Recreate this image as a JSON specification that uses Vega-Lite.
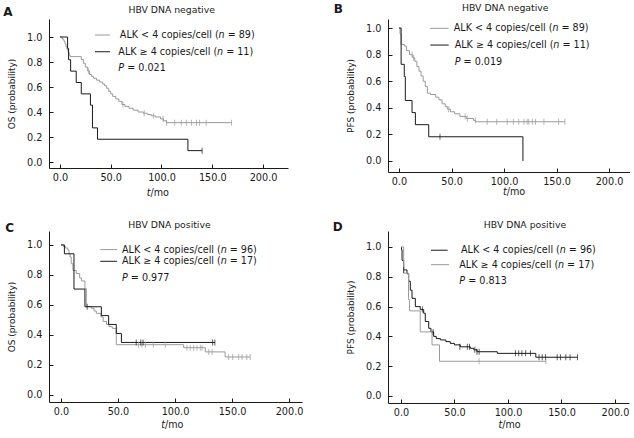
{
"$schema":"https://vega.github.io/schema/vega-lite/v6.json",
"padding":{"left":3,"top":3,"right":0,"bottom":0},
"autosize":{"type":"pad"},
"bounds":"flush",
"columns":2,
"spacing":{"row":59,"column":86},
"resolve":{"scale":{"color":"independent"}},
"config":{
 "view":{"stroke":null},
 "axis":{"labelFont":"DejaVu Sans","labelFontSize":9.7,"titleFont":"DejaVu Sans","titleFontSize":9,"titleFontWeight":"normal","labelColor":"#1a1a1a","titleColor":"#1a1a1a","domainColor":"#1a1a1a","tickColor":"#1a1a1a","tickSize":-4,"grid":false,"labelFlush":false,"labelOverlap":false,"labelBound":false,"tickCount":20},
 "axisX":{"labelPadding":8},
 "axisY":{"labelPadding":11,"titlePadding":10},
 "text":{"font":"DejaVu Sans","fontSize":9.6,"color":"#1a1a1a","baseline":"middle","align":"left"}
},
"datasets":{
"curves":[
{"p":"A","g":"lt4","t":0,"s":1},{"p":"A","g":"lt4","t":2,"s":0.989},{"p":"A","g":"lt4","t":3,"s":0.978},{"p":"A","g":"lt4","t":4,"s":0.966},{"p":"A","g":"lt4","t":5,"s":0.944},{"p":"A","g":"lt4","t":6,"s":0.921},{"p":"A","g":"lt4","t":7,"s":0.899},{"p":"A","g":"lt4","t":8,"s":0.876},{"p":"A","g":"lt4","t":9,"s":0.854},{"p":"A","g":"lt4","t":10,"s":0.843},{"p":"A","g":"lt4","t":21,"s":0.82},{"p":"A","g":"lt4","t":23,"s":0.79},{"p":"A","g":"lt4","t":25,"s":0.76},{"p":"A","g":"lt4","t":27,"s":0.73},{"p":"A","g":"lt4","t":29,"s":0.70},{"p":"A","g":"lt4","t":31,"s":0.685},{"p":"A","g":"lt4","t":33,"s":0.67},{"p":"A","g":"lt4","t":36,"s":0.655},{"p":"A","g":"lt4","t":39,"s":0.64},{"p":"A","g":"lt4","t":42,"s":0.625},{"p":"A","g":"lt4","t":44,"s":0.61},{"p":"A","g":"lt4","t":46,"s":0.59},{"p":"A","g":"lt4","t":48,"s":0.565},{"p":"A","g":"lt4","t":50,"s":0.545},{"p":"A","g":"lt4","t":52,"s":0.525},{"p":"A","g":"lt4","t":55,"s":0.505},{"p":"A","g":"lt4","t":58,"s":0.485},{"p":"A","g":"lt4","t":61,"s":0.46},{"p":"A","g":"lt4","t":64,"s":0.445},{"p":"A","g":"lt4","t":68,"s":0.43},{"p":"A","g":"lt4","t":72,"s":0.415},{"p":"A","g":"lt4","t":77,"s":0.40},{"p":"A","g":"lt4","t":82,"s":0.39},{"p":"A","g":"lt4","t":86,"s":0.38},{"p":"A","g":"lt4","t":90,"s":0.37},{"p":"A","g":"lt4","t":94,"s":0.36},{"p":"A","g":"lt4","t":99,"s":0.345},{"p":"A","g":"lt4","t":102,"s":0.33},{"p":"A","g":"lt4","t":105,"s":0.315},{"p":"A","g":"lt4","t":169,"s":0.315},
{"p":"A","g":"ge4","t":0,"s":1},{"p":"A","g":"ge4","t":7.5,"s":0.909},{"p":"A","g":"ge4","t":8.5,"s":0.818},{"p":"A","g":"ge4","t":10.5,"s":0.727},{"p":"A","g":"ge4","t":16,"s":0.636},{"p":"A","g":"ge4","t":21,"s":0.545},{"p":"A","g":"ge4","t":30,"s":0.455},{"p":"A","g":"ge4","t":32,"s":0.273},{"p":"A","g":"ge4","t":37,"s":0.182},{"p":"A","g":"ge4","t":126,"s":0.091},{"p":"A","g":"ge4","t":140,"s":0.091},
{"p":"B","g":"lt4","t":0,"s":1},{"p":"B","g":"lt4","t":1,"s":0.955},{"p":"B","g":"lt4","t":2,"s":0.876},{"p":"B","g":"lt4","t":5,"s":0.865},{"p":"B","g":"lt4","t":7,"s":0.83},{"p":"B","g":"lt4","t":10,"s":0.80},{"p":"B","g":"lt4","t":13,"s":0.775},{"p":"B","g":"lt4","t":15,"s":0.75},{"p":"B","g":"lt4","t":17,"s":0.71},{"p":"B","g":"lt4","t":19,"s":0.675},{"p":"B","g":"lt4","t":21,"s":0.64},{"p":"B","g":"lt4","t":23,"s":0.60},{"p":"B","g":"lt4","t":25,"s":0.56},{"p":"B","g":"lt4","t":27,"s":0.51},{"p":"B","g":"lt4","t":30,"s":0.50},{"p":"B","g":"lt4","t":35,"s":0.48},{"p":"B","g":"lt4","t":38,"s":0.46},{"p":"B","g":"lt4","t":41,"s":0.43},{"p":"B","g":"lt4","t":44,"s":0.41},{"p":"B","g":"lt4","t":46,"s":0.39},{"p":"B","g":"lt4","t":49,"s":0.37},{"p":"B","g":"lt4","t":53,"s":0.355},{"p":"B","g":"lt4","t":58,"s":0.335},{"p":"B","g":"lt4","t":64,"s":0.32},{"p":"B","g":"lt4","t":71,"s":0.305},{"p":"B","g":"lt4","t":73,"s":0.295},{"p":"B","g":"lt4","t":158,"s":0.295},
{"p":"B","g":"ge4","t":0,"s":1},{"p":"B","g":"ge4","t":2,"s":0.727},{"p":"B","g":"ge4","t":5,"s":0.636},{"p":"B","g":"ge4","t":6,"s":0.455},{"p":"B","g":"ge4","t":12.4,"s":0.364},{"p":"B","g":"ge4","t":15.6,"s":0.273},{"p":"B","g":"ge4","t":28.3,"s":0.182},{"p":"B","g":"ge4","t":118,"s":0},
{"p":"C","g":"lt4","t":0,"s":1},{"p":"C","g":"lt4","t":2,"s":0.99},{"p":"C","g":"lt4","t":4,"s":0.979},{"p":"C","g":"lt4","t":6,"s":0.967},{"p":"C","g":"lt4","t":7,"s":0.94},{"p":"C","g":"lt4","t":8,"s":0.92},{"p":"C","g":"lt4","t":9,"s":0.875},{"p":"C","g":"lt4","t":10.5,"s":0.83},{"p":"C","g":"lt4","t":13.4,"s":0.81},{"p":"C","g":"lt4","t":16.4,"s":0.78},{"p":"C","g":"lt4","t":18,"s":0.76},{"p":"C","g":"lt4","t":21,"s":0.71},{"p":"C","g":"lt4","t":22.2,"s":0.59},{"p":"C","g":"lt4","t":26.6,"s":0.578},{"p":"C","g":"lt4","t":29,"s":0.56},{"p":"C","g":"lt4","t":31,"s":0.544},{"p":"C","g":"lt4","t":35,"s":0.52},{"p":"C","g":"lt4","t":37,"s":0.49},{"p":"C","g":"lt4","t":40,"s":0.47},{"p":"C","g":"lt4","t":42,"s":0.456},{"p":"C","g":"lt4","t":45,"s":0.444},{"p":"C","g":"lt4","t":48.5,"s":0.335},{"p":"C","g":"lt4","t":107.6,"s":0.315},{"p":"C","g":"lt4","t":126.6,"s":0.287},{"p":"C","g":"lt4","t":144,"s":0.253},{"p":"C","g":"lt4","t":166,"s":0.253},
{"p":"C","g":"ge4","t":0,"s":1},{"p":"C","g":"ge4","t":3,"s":0.941},{"p":"C","g":"ge4","t":11.4,"s":0.706},{"p":"C","g":"ge4","t":21,"s":0.588},{"p":"C","g":"ge4","t":35.4,"s":0.529},{"p":"C","g":"ge4","t":41.8,"s":0.47},{"p":"C","g":"ge4","t":48.5,"s":0.41},{"p":"C","g":"ge4","t":53,"s":0.35},{"p":"C","g":"ge4","t":135,"s":0.35},
{"p":"D","g":"lt4","t":0,"s":1},{"p":"D","g":"lt4","t":0.5,"s":0.98},{"p":"D","g":"lt4","t":1,"s":0.91},{"p":"D","g":"lt4","t":2.5,"s":0.846},{"p":"D","g":"lt4","t":5.6,"s":0.82},{"p":"D","g":"lt4","t":7.2,"s":0.77},{"p":"D","g":"lt4","t":8.7,"s":0.71},{"p":"D","g":"lt4","t":10.3,"s":0.655},{"p":"D","g":"lt4","t":13.4,"s":0.60},{"p":"D","g":"lt4","t":18,"s":0.58},{"p":"D","g":"lt4","t":21.2,"s":0.555},{"p":"D","g":"lt4","t":22.7,"s":0.50},{"p":"D","g":"lt4","t":25.9,"s":0.454},{"p":"D","g":"lt4","t":28,"s":0.43},{"p":"D","g":"lt4","t":30.5,"s":0.40},{"p":"D","g":"lt4","t":33,"s":0.385},{"p":"D","g":"lt4","t":36.8,"s":0.376},{"p":"D","g":"lt4","t":42,"s":0.365},{"p":"D","g":"lt4","t":46,"s":0.353},{"p":"D","g":"lt4","t":50,"s":0.343},{"p":"D","g":"lt4","t":55.4,"s":0.33},{"p":"D","g":"lt4","t":64.8,"s":0.32},{"p":"D","g":"lt4","t":68,"s":0.31},{"p":"D","g":"lt4","t":71,"s":0.297},{"p":"D","g":"lt4","t":90,"s":0.286},{"p":"D","g":"lt4","t":126,"s":0.26},{"p":"D","g":"lt4","t":165,"s":0.26},
{"p":"D","g":"ge4","t":0,"s":1},{"p":"D","g":"ge4","t":2.5,"s":0.824},{"p":"D","g":"ge4","t":7,"s":0.647},{"p":"D","g":"ge4","t":8,"s":0.571},{"p":"D","g":"ge4","t":18,"s":0.43},{"p":"D","g":"ge4","t":29,"s":0.343},{"p":"D","g":"ge4","t":36,"s":0.233},{"p":"D","g":"ge4","t":135.5,"s":0.233}
],
"cens":[
{"p":"A","g":"lt4","t":28,"s":0.73},{"p":"A","g":"lt4","t":62,"s":0.46},{"p":"A","g":"lt4","t":83,"s":0.39},{"p":"A","g":"lt4","t":92,"s":0.37},{"p":"A","g":"lt4","t":101.5,"s":0.345},{"p":"A","g":"lt4","t":105,"s":0.315},{"p":"A","g":"lt4","t":113,"s":0.315},{"p":"A","g":"lt4","t":119.5,"s":0.315},{"p":"A","g":"lt4","t":124.5,"s":0.315},{"p":"A","g":"lt4","t":129.5,"s":0.315},{"p":"A","g":"lt4","t":134.5,"s":0.315},{"p":"A","g":"lt4","t":137.5,"s":0.315},{"p":"A","g":"lt4","t":144,"s":0.315},{"p":"A","g":"lt4","t":169,"s":0.315},
{"p":"A","g":"ge4","t":140,"s":0.091},
{"p":"B","g":"lt4","t":12.4,"s":0.80},{"p":"B","g":"lt4","t":14,"s":0.775},{"p":"B","g":"lt4","t":47.3,"s":0.39},{"p":"B","g":"lt4","t":63,"s":0.335},{"p":"B","g":"lt4","t":65,"s":0.32},{"p":"B","g":"lt4","t":72.7,"s":0.305},{"p":"B","g":"lt4","t":84,"s":0.295},{"p":"B","g":"lt4","t":93,"s":0.295},{"p":"B","g":"lt4","t":103,"s":0.295},{"p":"B","g":"lt4","t":109,"s":0.295},{"p":"B","g":"lt4","t":114,"s":0.295},{"p":"B","g":"lt4","t":119,"s":0.295},{"p":"B","g":"lt4","t":122,"s":0.295},{"p":"B","g":"lt4","t":123.5,"s":0.295},{"p":"B","g":"lt4","t":127,"s":0.295},{"p":"B","g":"lt4","t":130,"s":0.295},{"p":"B","g":"lt4","t":138,"s":0.295},{"p":"B","g":"lt4","t":152,"s":0.295},{"p":"B","g":"lt4","t":158,"s":0.295},
{"p":"B","g":"ge4","t":39,"s":0.182},
{"p":"C","g":"lt4","t":68,"s":0.335},{"p":"C","g":"lt4","t":71,"s":0.335},{"p":"C","g":"lt4","t":74,"s":0.335},{"p":"C","g":"lt4","t":81,"s":0.335},{"p":"C","g":"lt4","t":91.5,"s":0.335},{"p":"C","g":"lt4","t":110.5,"s":0.315},{"p":"C","g":"lt4","t":113.4,"s":0.315},{"p":"C","g":"lt4","t":116.4,"s":0.315},{"p":"C","g":"lt4","t":119.3,"s":0.315},{"p":"C","g":"lt4","t":122.2,"s":0.315},{"p":"C","g":"lt4","t":123.7,"s":0.315},{"p":"C","g":"lt4","t":129.6,"s":0.287},{"p":"C","g":"lt4","t":132.5,"s":0.287},{"p":"C","g":"lt4","t":147,"s":0.253},{"p":"C","g":"lt4","t":150.6,"s":0.253},{"p":"C","g":"lt4","t":155.9,"s":0.253},{"p":"C","g":"lt4","t":158.8,"s":0.253},{"p":"C","g":"lt4","t":163,"s":0.253},{"p":"C","g":"lt4","t":166,"s":0.253},
{"p":"C","g":"ge4","t":23,"s":0.588},{"p":"C","g":"ge4","t":66,"s":0.35},{"p":"C","g":"ge4","t":70,"s":0.35},{"p":"C","g":"ge4","t":72,"s":0.35},{"p":"C","g":"ge4","t":133,"s":0.35},{"p":"C","g":"ge4","t":135,"s":0.35},
{"p":"D","g":"lt4","t":2.5,"s":0.846},{"p":"D","g":"lt4","t":20,"s":0.58},{"p":"D","g":"lt4","t":30,"s":0.43},{"p":"D","g":"lt4","t":55,"s":0.33},{"p":"D","g":"lt4","t":62,"s":0.33},{"p":"D","g":"lt4","t":64,"s":0.33},{"p":"D","g":"lt4","t":69,"s":0.31},{"p":"D","g":"lt4","t":71,"s":0.297},{"p":"D","g":"lt4","t":73,"s":0.297},{"p":"D","g":"lt4","t":107,"s":0.286},{"p":"D","g":"lt4","t":110,"s":0.286},{"p":"D","g":"lt4","t":113,"s":0.286},{"p":"D","g":"lt4","t":116.5,"s":0.286},{"p":"D","g":"lt4","t":121,"s":0.286},{"p":"D","g":"lt4","t":129,"s":0.26},{"p":"D","g":"lt4","t":132,"s":0.26},{"p":"D","g":"lt4","t":135,"s":0.26},{"p":"D","g":"lt4","t":146,"s":0.26},{"p":"D","g":"lt4","t":149,"s":0.26},{"p":"D","g":"lt4","t":154,"s":0.26},{"p":"D","g":"lt4","t":158,"s":0.26},{"p":"D","g":"lt4","t":165,"s":0.26},
{"p":"D","g":"ge4","t":73,"s":0.233},{"p":"D","g":"ge4","t":135.5,"s":0.233}
]
},
"concat":[
{"width":239,"height":149,
 "layer":[
  {"data":{"name":"curves"},"transform":[{"filter":"datum.p==='A'"}],
   "mark":{"type":"line","interpolate":"step-after","strokeWidth":1},
   "encoding":{
    "x":{"field":"t","type":"quantitative","scale":{"domain":[-10.8,224.6],"nice":false,"zero":false},"axis":{"values":[0,50,100,150,200],"format":".1f","title":null,"tickCount":20}},
    "y":{"field":"s","type":"quantitative","scale":{"domain":[-0.048,1.144],"nice":false,"zero":false},"axis":{"values":[0,0.2,0.4,0.6,0.8,1],"format":".1f","title":"OS (probability)","tickCount":20}},
    "color":{"field":"g","type":"nominal","scale":{"domain":["lt4","ge4"],"range":["#9a9a9a","#1a1a1a"]},"legend":null}}},
  {"data":{"name":"cens"},"transform":[{"filter":"datum.p==='A'"}],
   "mark":{"type":"tick","orient":"vertical","size":6,"thickness":1},
   "encoding":{"x":{"field":"t","type":"quantitative"},"y":{"field":"s","type":"quantitative"},"color":{"field":"g","type":"nominal"}}},
  {"data":{"values":[{}]},"layer":[
   {"mark":{"type":"rule","color":"#9a9a9a","strokeWidth":1},"encoding":{"x":{"datum":34.5},"x2":{"datum":49.3},"y":{"datum":1.016}}},
   {"mark":{"type":"rule","color":"#1a1a1a","strokeWidth":1},"encoding":{"x":{"datum":34.5},"x2":{"datum":49.3},"y":{"datum":0.882}}},
   {"mark":{"type":"text","text":"ALK < 4 copies/cell ("},"encoding":{"x":{"datum":59},"y":{"datum":1.016}}},
   {"mark":{"type":"text","text":"n","fontStyle":"italic","dx":98.7},"encoding":{"x":{"datum":59},"y":{"datum":1.016}}},
   {"mark":{"type":"text","text":"= 89)","dx":107.8},"encoding":{"x":{"datum":59},"y":{"datum":1.016}}},
   {"mark":{"type":"text","text":"ALK ≥ 4 copies/cell ("},"encoding":{"x":{"datum":57.5},"y":{"datum":0.882}}},
   {"mark":{"type":"text","text":"n","fontStyle":"italic","dx":98.7},"encoding":{"x":{"datum":57.5},"y":{"datum":0.882}}},
   {"mark":{"type":"text","text":"= 11)","dx":107.8},"encoding":{"x":{"datum":57.5},"y":{"datum":0.882}}},
   {"mark":{"type":"text","text":"P","fontStyle":"italic"},"encoding":{"x":{"datum":57.5},"y":{"datum":0.752}}},
   {"mark":{"type":"text","text":"= 0.021","dx":8.9},"encoding":{"x":{"datum":57.5},"y":{"datum":0.752}}},
   {"mark":{"type":"text","text":"A","fontWeight":"bold","fontSize":12},"encoding":{"x":{"datum":-55.9},"y":{"datum":1.204}}},
   {"mark":{"type":"text","text":"HBV DNA negative","align":"center","fontSize":9.3},"encoding":{"x":{"datum":110},"y":{"datum":1.22}}},
   {"mark":{"type":"text","text":"t","fontStyle":"italic","align":"right","dx":-7},"encoding":{"x":{"datum":96},"y":{"datum":-0.248}}},
   {"mark":{"type":"text","text":"/mo","dx":-7},"encoding":{"x":{"datum":96},"y":{"datum":-0.248}}}
  ]}
 ]},
{"width":242,"height":153,
 "layer":[
  {"data":{"name":"curves"},"transform":[{"filter":"datum.p==='B'"}],
   "mark":{"type":"line","interpolate":"step-after","strokeWidth":1},
   "encoding":{
    "x":{"field":"t","type":"quantitative","scale":{"domain":[-10.5,220],"nice":false,"zero":false},"axis":{"values":[0,50,100,150,200],"format":".1f","title":null,"tickCount":20}},
    "y":{"field":"s","type":"quantitative","scale":{"domain":[-0.083,1.068],"nice":false,"zero":false},"axis":{"values":[0,0.2,0.4,0.6,0.8,1],"format":".1f","title":"PFS (probability)","tickCount":20}},
    "color":{"field":"g","type":"nominal","scale":{"domain":["lt4","ge4"],"range":["#9a9a9a","#1a1a1a"]},"legend":null}}},
  {"data":{"name":"cens"},"transform":[{"filter":"datum.p==='B'"}],
   "mark":{"type":"tick","orient":"vertical","size":6,"thickness":1},
   "encoding":{"x":{"field":"t","type":"quantitative"},"y":{"field":"s","type":"quantitative"},"color":{"field":"g","type":"nominal"}}},
  {"data":{"values":[{}]},"layer":[
   {"mark":{"type":"rule","color":"#9a9a9a","strokeWidth":1},"encoding":{"x":{"datum":29.8},"x2":{"datum":47.3},"y":{"datum":0.998}}},
   {"mark":{"type":"rule","color":"#1a1a1a","strokeWidth":1},"encoding":{"x":{"datum":29.8},"x2":{"datum":47.3},"y":{"datum":0.872}}},
   {"mark":{"type":"text","text":"ALK < 4 copies/cell ("},"encoding":{"x":{"datum":52.1},"y":{"datum":0.998}}},
   {"mark":{"type":"text","text":"n","fontStyle":"italic","dx":98.7},"encoding":{"x":{"datum":52.1},"y":{"datum":0.998}}},
   {"mark":{"type":"text","text":"= 89)","dx":107.8},"encoding":{"x":{"datum":52.1},"y":{"datum":0.998}}},
   {"mark":{"type":"text","text":"ALK ≥ 4 copies/cell ("},"encoding":{"x":{"datum":53},"y":{"datum":0.872}}},
   {"mark":{"type":"text","text":"n","fontStyle":"italic","dx":98.7},"encoding":{"x":{"datum":53},"y":{"datum":0.872}}},
   {"mark":{"type":"text","text":"= 11)","dx":107.8},"encoding":{"x":{"datum":53},"y":{"datum":0.872}}},
   {"mark":{"type":"text","text":"P","fontStyle":"italic"},"encoding":{"x":{"datum":53},"y":{"datum":0.747}}},
   {"mark":{"type":"text","text":"= 0.019","dx":8.9},"encoding":{"x":{"datum":53},"y":{"datum":0.747}}},
   {"mark":{"type":"text","text":"B","fontWeight":"bold","fontSize":12},"encoding":{"x":{"datum":-62.2},"y":{"datum":1.141}}},
   {"mark":{"type":"text","text":"HBV DNA negative","align":"center","fontSize":9.3},"encoding":{"x":{"datum":101.2},"y":{"datum":1.148}}},
   {"mark":{"type":"text","text":"t","fontStyle":"italic","align":"right","dx":-7},"encoding":{"x":{"datum":109.2},"y":{"datum":-0.235}}},
   {"mark":{"type":"text","text":"/mo","dx":-7},"encoding":{"x":{"datum":109.2},"y":{"datum":-0.235}}}
  ]}
 ]},
{"width":253,"height":171,
 "layer":[
  {"data":{"name":"curves"},"transform":[{"filter":"datum.p==='C'"}],
   "mark":{"type":"line","interpolate":"step-after","strokeWidth":1},
   "encoding":{
    "x":{"field":"t","type":"quantitative","scale":{"domain":[-10.5,211.4],"nice":false,"zero":false},"axis":{"values":[0,50,100,150,200],"format":".1f","title":null,"tickCount":20}},
    "y":{"field":"s","type":"quantitative","scale":{"domain":[-0.047,1.093],"nice":false,"zero":false},"axis":{"values":[0,0.2,0.4,0.6,0.8,1],"format":".1f","title":"OS (probability)","tickCount":20}},
    "color":{"field":"g","type":"nominal","scale":{"domain":["lt4","ge4"],"range":["#9a9a9a","#1a1a1a"]},"legend":null}}},
  {"data":{"name":"cens"},"transform":[{"filter":"datum.p==='C'"}],
   "mark":{"type":"tick","orient":"vertical","size":6,"thickness":1},
   "encoding":{"x":{"field":"t","type":"quantitative"},"y":{"field":"s","type":"quantitative"},"color":{"field":"g","type":"nominal"}}},
  {"data":{"values":[{}]},"layer":[
   {"mark":{"type":"rule","color":"#9a9a9a","strokeWidth":1},"encoding":{"x":{"datum":34.5},"x2":{"datum":49.1},"y":{"datum":0.969}}},
   {"mark":{"type":"rule","color":"#1a1a1a","strokeWidth":1},"encoding":{"x":{"datum":34.5},"x2":{"datum":49.1},"y":{"datum":0.891}}},
   {"mark":{"type":"text","text":"ALK < 4 copies/cell ("},"encoding":{"x":{"datum":53.5},"y":{"datum":0.969}}},
   {"mark":{"type":"text","text":"n","fontStyle":"italic","dx":98.7},"encoding":{"x":{"datum":53.5},"y":{"datum":0.969}}},
   {"mark":{"type":"text","text":"= 96)","dx":107.8},"encoding":{"x":{"datum":53.5},"y":{"datum":0.969}}},
   {"mark":{"type":"text","text":"ALK ≥ 4 copies/cell ("},"encoding":{"x":{"datum":53.5},"y":{"datum":0.891}}},
   {"mark":{"type":"text","text":"n","fontStyle":"italic","dx":98.7},"encoding":{"x":{"datum":53.5},"y":{"datum":0.891}}},
   {"mark":{"type":"text","text":"= 17)","dx":107.8},"encoding":{"x":{"datum":53.5},"y":{"datum":0.891}}},
   {"mark":{"type":"text","text":"P","fontStyle":"italic"},"encoding":{"x":{"datum":53.5},"y":{"datum":0.78}}},
   {"mark":{"type":"text","text":"= 0.977","dx":8.9},"encoding":{"x":{"datum":53.5},"y":{"datum":0.78}}},
   {"mark":{"type":"text","text":"C","fontWeight":"bold","fontSize":12},"encoding":{"x":{"datum":-48.9},"y":{"datum":1.113}}},
   {"mark":{"type":"text","text":"HBV DNA positive","align":"center","fontSize":9.3},"encoding":{"x":{"datum":95.2},"y":{"datum":1.135}}},
   {"mark":{"type":"text","text":"t","fontStyle":"italic","align":"right","dx":-7},"encoding":{"x":{"datum":97.4},"y":{"datum":-0.203}}},
   {"mark":{"type":"text","text":"/mo","dx":-7},"encoding":{"x":{"datum":97.4},"y":{"datum":-0.203}}}
  ]}
 ]},
{"width":241,"height":172,
 "layer":[
  {"data":{"name":"curves"},"transform":[{"filter":"datum.p==='D'"}],
   "mark":{"type":"line","interpolate":"step-after","strokeWidth":1},
   "encoding":{
    "x":{"field":"t","type":"quantitative","scale":{"domain":[-12.15,213.1],"nice":false,"zero":false},"axis":{"values":[0,50,100,150,200],"format":".1f","title":null,"tickCount":20}},
    "y":{"field":"s","type":"quantitative","scale":{"domain":[-0.047,1.107],"nice":false,"zero":false},"axis":{"values":[0,0.2,0.4,0.6,0.8,1],"format":".1f","title":"PFS (probability)","tickCount":20}},
    "color":{"field":"g","type":"nominal","scale":{"domain":["lt4","ge4"],"range":["#1a1a1a","#9a9a9a"]},"legend":null}}},
  {"data":{"name":"cens"},"transform":[{"filter":"datum.p==='D'"}],
   "mark":{"type":"tick","orient":"vertical","size":6,"thickness":1},
   "encoding":{"x":{"field":"t","type":"quantitative"},"y":{"field":"s","type":"quantitative"},"color":{"field":"g","type":"nominal"}}},
  {"data":{"values":[{}]},"layer":[
   {"mark":{"type":"rule","color":"#1a1a1a","strokeWidth":1},"encoding":{"x":{"datum":28},"x2":{"datum":43.6},"y":{"datum":0.978}}},
   {"mark":{"type":"rule","color":"#9a9a9a","strokeWidth":1},"encoding":{"x":{"datum":28},"x2":{"datum":45},"y":{"datum":0.881}}},
   {"mark":{"type":"text","text":"ALK < 4 copies/cell ("},"encoding":{"x":{"datum":56.1},"y":{"datum":0.978}}},
   {"mark":{"type":"text","text":"n","fontStyle":"italic","dx":98.7},"encoding":{"x":{"datum":56.1},"y":{"datum":0.978}}},
   {"mark":{"type":"text","text":"= 96)","dx":107.8},"encoding":{"x":{"datum":56.1},"y":{"datum":0.978}}},
   {"mark":{"type":"text","text":"ALK ≥ 4 copies/cell ("},"encoding":{"x":{"datum":54.5},"y":{"datum":0.881}}},
   {"mark":{"type":"text","text":"n","fontStyle":"italic","dx":98.7},"encoding":{"x":{"datum":54.5},"y":{"datum":0.881}}},
   {"mark":{"type":"text","text":"= 17)","dx":107.8},"encoding":{"x":{"datum":54.5},"y":{"datum":0.881}}},
   {"mark":{"type":"text","text":"P","fontStyle":"italic"},"encoding":{"x":{"datum":54.5},"y":{"datum":0.77}}},
   {"mark":{"type":"text","text":"= 0.813","dx":8.9},"encoding":{"x":{"datum":54.5},"y":{"datum":0.77}}},
   {"mark":{"type":"text","text":"D","fontWeight":"bold","fontSize":12},"encoding":{"x":{"datum":-63.8},"y":{"datum":1.133}}},
   {"mark":{"type":"text","text":"HBV DNA positive","align":"center","fontSize":9.3},"encoding":{"x":{"datum":115.9},"y":{"datum":1.144}}},
   {"mark":{"type":"text","text":"t","fontStyle":"italic","align":"right","dx":-7},"encoding":{"x":{"datum":101.2},"y":{"datum":-0.193}}},
   {"mark":{"type":"text","text":"/mo","dx":-7},"encoding":{"x":{"datum":101.2},"y":{"datum":-0.193}}}
  ]}
 ]}
]
}
